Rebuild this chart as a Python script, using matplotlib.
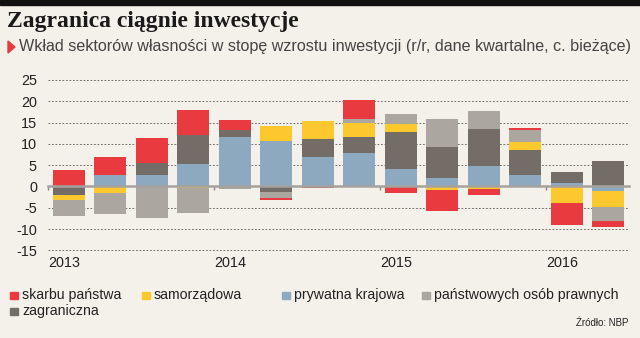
import numpy as np
import matplotlib
matplotlib.use("Agg")
import matplotlib.pyplot as plt
from matplotlib.patches import Rectangle, Polygon
from matplotlib import font_manager as fm
from matplotlib.transforms import blended_transform_factory

names = {f.name for f in fm.fontManager.ttflist}
def pick(*cands):
    for c in cands:
        if c in names:
            return c
    return "DejaVu Sans"

SANS = pick("Liberation Sans Narrow", "Liberation Sans", "DejaVu Sans")
SANS_R = pick("Liberation Sans", "DejaVu Sans")
SERIF = pick("Liberation Serif", "DejaVu Serif")

quarters = ["2013Q1", "2013Q2", "2013Q3", "2013Q4", "2014Q1", "2014Q2", "2014Q3",
            "2014Q4", "2015Q1", "2015Q2", "2015Q3", "2015Q4", "2016Q1", "2016Q2"]
years = ["2013", "2014", "2015", "2016"]

skarbu = [3.9, 4.1, 5.7, 5.9, 2.5, -0.55, -0.3, 4.4, -1.6, -4.9, -1.5, 0.45, -5.1, -1.6]
samorzadowa = [-1.1, -1.6, 0.0, -0.3, 0.0, 3.5, 4.1, 3.3, 1.8, -0.9, -0.6, 1.85, -4.0, -3.8]
prywatna = [0.0, 2.7, 2.6, 5.3, 11.6, 10.6, 6.9, 7.8, 4.1, 2.0, 4.9, 2.8, 0.9, -1.1]
panstwowych = [-3.9, -4.8, -7.5, -6.0, -0.7, -1.4, 0.0, 0.9, 2.4, 6.6, 4.3, 2.85, 0.0, -3.1]
zagraniczna = [-2.0, 0.0, 3.0, 6.8, 1.6, -1.3, 4.3, 3.9, 8.7, 7.2, 8.5, 5.7, 2.6, 5.9]

labels = ["skarbu państwa", "samorządowa", "prywatna krajowa",
          "państwowych osób prawnych", "zagraniczna"]
colors = {"skarbu państwa": "#E93A40", "samorządowa": "#FDC72E",
          "prywatna krajowa": "#8CA9C0", "państwowych osób prawnych": "#ABA6A0",
          "zagraniczna": "#746C67"}
series = {"skarbu państwa": skarbu, "samorządowa": samorzadowa,
          "prywatna krajowa": prywatna, "państwowych osób prawnych": panstwowych,
          "zagraniczna": zagraniczna}
stack_order = ["prywatna krajowa", "zagraniczna", "samorządowa",
               "państwowych osób prawnych", "skarbu państwa"]

BG = "#F4F0EA"
fig = plt.figure(figsize=(6.4, 3.38), dpi=100, facecolor=BG)
W, H = 640, 338
ax = fig.add_axes([48 / W, 1 - 251.6 / H, 581 / W, (251.6 - 78.7) / H])
ax.set_facecolor(BG)

x = np.arange(len(quarters))
pos_b = np.zeros(len(x))
neg_b = np.zeros(len(x))
for name in stack_order:
    v = np.array(series[name], dtype=float)
    bottom = np.where(v >= 0, pos_b, neg_b)
    ax.bar(x, v, bottom=bottom, width=0.77, color=colors[name], linewidth=0, zorder=3)
    pos_b += np.where(v >= 0, v, 0)
    neg_b += np.where(v < 0, v, 0)

ax.set_xlim(-0.5, len(x) - 0.5)
ax.set_ylim(-15.3, 25.3)
yt = [25, 20, 15, 10, 5, 0, -5, -10, -15]
ax.set_yticks(yt)
ax.set_yticklabels([str(t) for t in yt], fontsize=10.4, fontfamily=SANS_R, color="#222222")
ax.tick_params(axis="y", length=0, pad=8)
for t in yt:
    if t != 0:
        ax.axhline(t, color="#707070", lw=0.7, ls=(0, (1.8, 1.8)), zorder=1)

for s in ["top", "right", "left"]:
    ax.spines[s].set_visible(False)
ax.spines["bottom"].set_position(("data", 0))
ax.spines["bottom"].set_color("#A5A29F")
ax.spines["bottom"].set_linewidth(1.8)
ax.spines["bottom"].set_zorder(4)
year_ticks = [-0.5, 3.5, 7.5, 11.5]
ax.set_xticks(year_ticks)
ax.tick_params(axis="x", length=3, width=1, color="#888888", direction="out", labelbottom=False)
tr = blended_transform_factory(ax.transData, ax.transAxes)
for xt, yl in zip(year_ticks, years):
    ax.text(xt, -0.068, yl, transform=tr, ha="left", va="center", fontsize=10.4,
            fontfamily=SANS_R, color="#222222")

# header
fig.patches.append(Rectangle((0, 1 - 5 / H), 1, 5 / H, transform=fig.transFigure,
                             color="#111111", zorder=10))
fig.text(7 / W, 1 - 22 / H, "Zagranica ciągnie inwestycje", fontsize=17, fontweight="bold",
         fontfamily=SERIF, color="#1a1a1a", va="center", ha="left")
fig.patches.append(Polygon([[8 / W, 1 - 41 / H], [8 / W, 1 - 53 / H], [15 / W, 1 - 47 / H]],
                           closed=True, transform=fig.transFigure, color="#E93A40"))
fig.text(19 / W, 1 - 47 / H,
         "Wkład sektorów własności w stopę wzrostu inwestycji (r/r, dane kwartalne, c. bieżące)",
         fontsize=11.6, fontfamily=SANS, color="#444444", va="center", ha="left")

# legend
leg_pos = [(10, 295), (142, 295), (282, 295), (422, 295), (10, 311)]
for name, (lx, ly) in zip(labels, leg_pos):
    fig.patches.append(Rectangle((lx / W, 1 - (ly + 3.5) / H), 8 / W, 7 / H,
                                 transform=fig.transFigure, color=colors[name]))
    fig.text((lx + 12) / W, 1 - ly / H, name, fontsize=10.2, fontfamily=SANS,
             color="#222222", va="center", ha="left")

fig.text(628 / W, 1 - 323 / H, "Źródło: NBP", fontsize=7, fontfamily=SANS,
         color="#222222", va="center", ha="right")

fig.savefig("out.png", dpi=100, facecolor=BG)
